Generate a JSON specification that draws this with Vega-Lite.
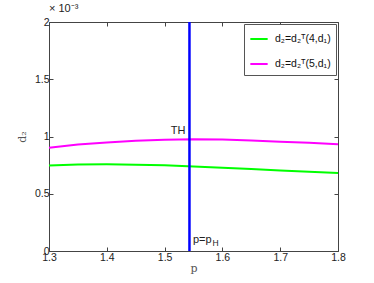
{
  "$schema": "https://vega.github.io/schema/vega-lite/v6.json",
  "width": 289,
  "height": 229,
  "autosize": {"type": "none"},
  "padding": {"left": 49, "top": 22, "right": 36, "bottom": 32},
  "background": "white",
  "title": {"text": "× 10⁻³", "anchor": "start", "frame": "group", "fontSize": 11, "fontWeight": "normal", "font": "Liberation Sans", "color": "#222", "offset": 3},
  "config": {
    "view": {"stroke": "#444", "strokeWidth": 1},
    "axis": {"grid": false, "domain": false, "tickSize": -4, "tickColor": "#444", "labelFont": "Liberation Sans", "labelFontSize": 10.5, "labelColor": "#222", "titleFont": "DejaVu Serif", "titleFontWeight": "normal", "titleFontSize": 11, "titleColor": "#555"}
  },
  "datasets": {
    "curves": [
      {"p": 1.3, "d2": 0.746, "series": "d₂=d₂ᵀ(4,d₁)"},
      {"p": 1.35, "d2": 0.755, "series": "d₂=d₂ᵀ(4,d₁)"},
      {"p": 1.4, "d2": 0.757, "series": "d₂=d₂ᵀ(4,d₁)"},
      {"p": 1.45, "d2": 0.754, "series": "d₂=d₂ᵀ(4,d₁)"},
      {"p": 1.5, "d2": 0.748, "series": "d₂=d₂ᵀ(4,d₁)"},
      {"p": 1.55, "d2": 0.738, "series": "d₂=d₂ᵀ(4,d₁)"},
      {"p": 1.6, "d2": 0.728, "series": "d₂=d₂ᵀ(4,d₁)"},
      {"p": 1.65, "d2": 0.716, "series": "d₂=d₂ᵀ(4,d₁)"},
      {"p": 1.7, "d2": 0.703, "series": "d₂=d₂ᵀ(4,d₁)"},
      {"p": 1.75, "d2": 0.692, "series": "d₂=d₂ᵀ(4,d₁)"},
      {"p": 1.8, "d2": 0.681, "series": "d₂=d₂ᵀ(4,d₁)"},
      {"p": 1.3, "d2": 0.902, "series": "d₂=d₂ᵀ(5,d₁)"},
      {"p": 1.35, "d2": 0.93, "series": "d₂=d₂ᵀ(5,d₁)"},
      {"p": 1.4, "d2": 0.948, "series": "d₂=d₂ᵀ(5,d₁)"},
      {"p": 1.45, "d2": 0.962, "series": "d₂=d₂ᵀ(5,d₁)"},
      {"p": 1.5, "d2": 0.972, "series": "d₂=d₂ᵀ(5,d₁)"},
      {"p": 1.55, "d2": 0.977, "series": "d₂=d₂ᵀ(5,d₁)"},
      {"p": 1.6, "d2": 0.974, "series": "d₂=d₂ᵀ(5,d₁)"},
      {"p": 1.65, "d2": 0.965, "series": "d₂=d₂ᵀ(5,d₁)"},
      {"p": 1.7, "d2": 0.955, "series": "d₂=d₂ᵀ(5,d₁)"},
      {"p": 1.75, "d2": 0.945, "series": "d₂=d₂ᵀ(5,d₁)"},
      {"p": 1.8, "d2": 0.932, "series": "d₂=d₂ᵀ(5,d₁)"}
    ]
  },
  "layer": [
    {
      "data": {"name": "curves"},
      "mark": {"type": "line", "strokeWidth": 2},
      "encoding": {
        "x": {"field": "p", "type": "quantitative", "scale": {"domain": [1.3, 1.8], "nice": false, "zero": false}, "axis": {"orient": "bottom", "values": [1.3, 1.4, 1.5, 1.6, 1.7, 1.8], "format": ".1f", "title": "p", "labelPadding": 5, "titlePadding": 0, "labelFlush": false}},
        "y": {"field": "d2", "type": "quantitative", "scale": {"domain": [0, 2], "nice": false}, "axis": {"orient": "left", "values": [0, 0.5, 1, 1.5, 2], "labelExpr": "datum.value == 0 ? '0' : datum.value == 1 ? '1' : datum.value == 2 ? '2' : datum.label", "title": "d₂", "labelPadding": 4, "titleX": -22}},
        "color": {"field": "series", "type": "nominal", "scale": {"domain": ["d₂=d₂ᵀ(4,d₁)", "d₂=d₂ᵀ(5,d₁)"], "range": ["#00ff00", "#ff00ff"]},
          "legend": {"title": null, "orient": "top-right", "offset": 2, "fillColor": "white", "strokeColor": "#555", "padding": 5, "labelFont": "Liberation Sans", "labelFontSize": 10.5, "labelColor": "#111", "symbolType": "stroke", "symbolStrokeWidth": 2, "symbolSize": 300, "rowPadding": 9, "labelOffset": 6}}
      }
    },
    {
      "data": {"values": [{"p": 1.543}]},
      "mark": {"type": "rule", "color": "#0000ff", "strokeWidth": 2.5},
      "encoding": {"x": {"field": "p", "type": "quantitative", "axis": null}}
    },
    {
      "data": {"values": [{"p": 1.536, "d2": 1.02, "label": "TH"}]},
      "mark": {"type": "text", "align": "right", "baseline": "alphabetic", "font": "Liberation Sans", "fontSize": 11, "color": "#222"},
      "encoding": {"x": {"field": "p", "type": "quantitative", "axis": null}, "y": {"field": "d2", "type": "quantitative", "axis": null}, "text": {"field": "label"}}
    },
    {
      "data": {"values": [{"p": 1.549, "d2": 0.07, "label": "p=p"}]},
      "mark": {"type": "text", "align": "left", "baseline": "alphabetic", "font": "Liberation Sans", "fontSize": 11, "color": "#222"},
      "encoding": {"x": {"field": "p", "type": "quantitative", "axis": null}, "y": {"field": "d2", "type": "quantitative", "axis": null}, "text": {"field": "label"}}
    },
    {
      "data": {"values": [{"p": 1.549, "d2": 0.07, "label": "H"}]},
      "mark": {"type": "text", "align": "left", "baseline": "alphabetic", "font": "Liberation Sans", "fontSize": 8.5, "color": "#222", "dx": 19.5, "dy": 3},
      "encoding": {"x": {"field": "p", "type": "quantitative", "axis": null}, "y": {"field": "d2", "type": "quantitative", "axis": null}, "text": {"field": "label"}}
    },
    {
      "data": {"name": "curves"},
      "mark": {"type": "point", "opacity": 0},
      "encoding": {
        "x": {"field": "p", "type": "quantitative", "axis": {"orient": "top", "values": [1.3, 1.4, 1.5, 1.6, 1.7, 1.8], "labels": false, "title": null}},
        "y": {"field": "d2", "type": "quantitative", "axis": {"orient": "right", "values": [0, 0.5, 1, 1.5, 2], "labels": false, "title": null}}
      }
    }
  ],
  "resolve": {"axis": {"x": "independent", "y": "independent"}}
}
